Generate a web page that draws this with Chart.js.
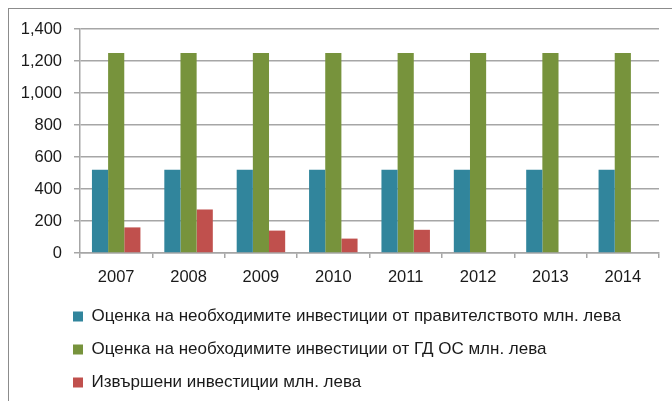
<!DOCTYPE html>
<html>
<head>
<meta charset="utf-8">
<script src="https://cdn.jsdelivr.net/npm/chart.js@4/dist/chart.umd.min.js"></script>
<style>
  html, body { margin: 0; padding: 0; background: #ffffff; }
  #wrap { width: 672px; height: 401px; position: relative; }
</style>
</head>
<body>
<div id="wrap"><canvas id="c" width="672" height="401"></canvas></div>
<script>
const categories = ['2007', '2008', '2009', '2010', '2011', '2012', '2013', '2014'];
const seriesNames = [
  'Оценка на необходимите инвестиции от правителството млн. лева',
  'Оценка на необходимите инвестиции от ГД ОС млн. лева',
  'Извършени инвестиции млн. лева'
];
const governmentEstimate = [520, 520, 520, 520, 520, 520, 520, 520];
const gdOsEstimate = [1250, 1250, 1250, 1250, 1250, 1250, 1250, 1250];
const actualInvestments = [160, 272, 140, 90, 145, null, null, null];
const yTicks = [0, 200, 400, 600, 800, 1000, 1200, 1400];

const FONT = 'Liberation Sans, Arial, sans-serif';

const frame = {
  id: 'frame',
  beforeDraw(chart) {
    const ctx = chart.ctx;
    ctx.save();
    ctx.strokeStyle = '#8c8c8c';
    ctx.lineWidth = 1;
    ctx.strokeRect(8.5, 8.5, 700, 450);
    ctx.restore();
  },
  afterLayout(chart) {
    // legend starts under the plot's left side, like the reference
    if (chart.legend) chart.legend.left = 57;
  }
};

new Chart(document.getElementById('c'), {
  type: 'bar',
  data: {
    labels: categories,
    datasets: [
      { label: seriesNames[0], data: governmentEstimate, backgroundColor: '#31859C', borderWidth: 0 },
      { label: seriesNames[1], data: gdOsEstimate, backgroundColor: '#77933C', borderWidth: 0 },
      { label: seriesNames[2], data: actualInvestments, backgroundColor: '#C0504D', borderWidth: 0 }
    ]
  },
  plugins: [frame],
  options: {
    responsive: false,
    animation: false,
    devicePixelRatio: 1,
    layout: { padding: { left: 0, right: 13, top: 29, bottom: 0 } },
    datasets: { bar: { categoryPercentage: 0.67, barPercentage: 1 } },
    plugins: {
      tooltip: { enabled: false },
      legend: {
        position: 'bottom',
        align: 'start',
        labels: {
          boxWidth: 10,
          boxHeight: 10,
          padding: 16,
          color: '#1a1a1a',
          font: { family: FONT, size: 17 }
        }
      }
    },
    scales: {
      x: {
        offset: true,
        grid: { display: true, drawOnChartArea: false, drawTicks: true, tickLength: 5, color: '#a6a6a6', lineWidth: 1.5, offset: true },
        border: { display: true, color: '#a6a6a6', width: 1.5 },
        ticks: { color: '#1a1a1a', font: { family: FONT, size: 16.5 }, padding: 10, maxRotation: 0 },
        afterFit(scale) { scale.height = 39; }
      },
      y: {
        min: 0,
        max: 1400,
        afterBuildTicks(scale) { scale.ticks = yTicks.map(v => ({ value: v })); },
        grid: { color: '#a6a6a6', lineWidth: 1.5, drawTicks: true, tickLength: 6 },
        border: { display: true, color: '#a6a6a6', width: 1.5 },
        ticks: {
          color: '#1a1a1a',
          font: { family: FONT, size: 16.5 },
          padding: 12,
          callback: (v) => Number(v).toLocaleString('en-US')
        },
        afterFit(scale) { scale.width = 80; }
      }
    }
  }
});
</script>
</body>
</html>
